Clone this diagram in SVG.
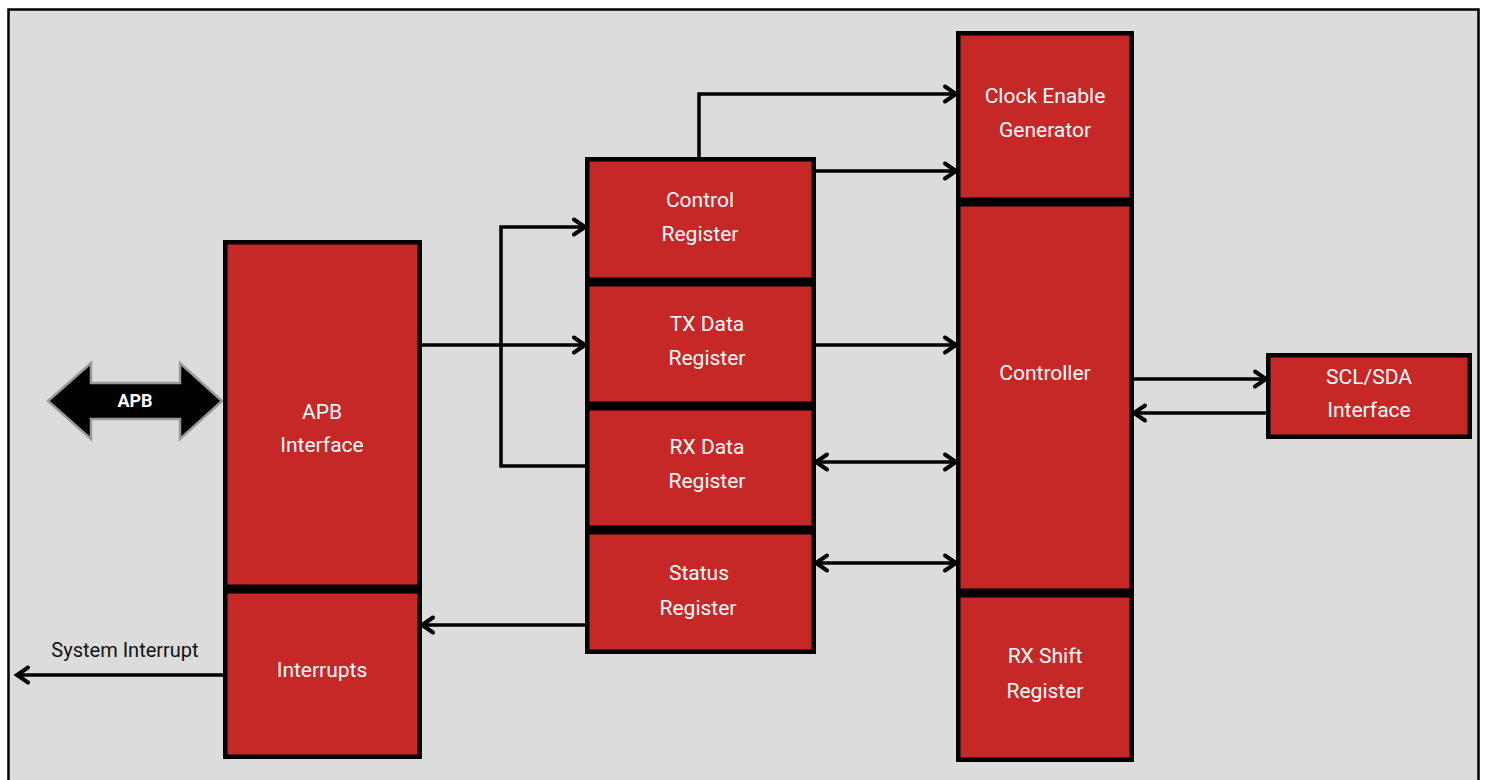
<svg xmlns="http://www.w3.org/2000/svg" width="1487" height="780" viewBox="0 0 1487 780">
<defs>
<style>
.box{fill:#c62727;stroke:#000;stroke-width:4.5}
.lbl{font-family:Roboto,"Liberation Sans",sans-serif;font-size:21px;fill:#fff;text-anchor:middle}
.conn{fill:none;stroke:#000;stroke-width:3.5}
</style>
<marker id="ah" markerUnits="userSpaceOnUse" markerWidth="18" markerHeight="22" refX="14" refY="10" orient="auto-start-reverse" overflow="visible">
<path d="M3,2.5 L14,10 L3,17.5" fill="none" stroke="#000" stroke-width="4" stroke-linecap="round" stroke-linejoin="miter"/>
</marker>
</defs>
<rect x="0" y="0" width="1487" height="780" fill="#fff"/>
<rect x="8.5" y="9.5" width="1470" height="800" fill="#dcdcdc" stroke="#000" stroke-width="2.5"/>

<g id="apb-bus">
<polygon points="48,401 91,363 91,383 180,383 180,363 222,401 180,439 180,419 91,419 91,439" fill="#000" stroke="#9a9a9a" stroke-width="2.5"/>
<text x="135" y="407" font-family="Roboto,'Liberation Sans',sans-serif" font-size="18" font-weight="bold" fill="#fff" text-anchor="middle">APB</text>
</g>

<g id="apb-interface">
<rect class="box" x="225.25" y="242.25" width="194.5" height="344.5"/>
<text class="lbl" x="322" y="419">APB</text>
<text class="lbl" x="322" y="452">Interface</text>
</g>
<g id="interrupts">
<rect class="box" x="225.25" y="591.25" width="194.5" height="165.5"/>
<text class="lbl" x="322" y="677">Interrupts</text>
</g>

<g id="control-register">
<rect class="box" x="587.25" y="159.25" width="226.5" height="120.5"/>
<text class="lbl" x="700" y="207">Control</text>
<text class="lbl" x="700" y="241">Register</text>
</g>
<g id="tx-data-register">
<rect class="box" x="587.25" y="284.25" width="226.5" height="119.5"/>
<text class="lbl" x="707" y="331">TX Data</text>
<text class="lbl" x="707" y="365">Register</text>
</g>
<g id="rx-data-register">
<rect class="box" x="587.25" y="408.25" width="226.5" height="119.5"/>
<text class="lbl" x="707" y="454">RX Data</text>
<text class="lbl" x="707" y="488">Register</text>
</g>
<g id="status-register">
<rect class="box" x="587.25" y="532.25" width="226.5" height="119.5"/>
<text class="lbl" x="699" y="580">Status</text>
<text class="lbl" x="698" y="615">Register</text>
</g>

<g id="clock-enable-generator">
<rect class="box" x="958.25" y="33.25" width="173.5" height="166.5"/>
<text class="lbl" x="1045" y="103">Clock Enable</text>
<text class="lbl" x="1045" y="137">Generator</text>
</g>
<g id="controller">
<rect class="box" x="958.25" y="204.25" width="173.5" height="386.5"/>
<text class="lbl" x="1045" y="380">Controller</text>
</g>
<g id="rx-shift-register">
<rect class="box" x="958.25" y="595.25" width="173.5" height="164.5"/>
<text class="lbl" x="1045" y="663">RX Shift</text>
<text class="lbl" x="1045" y="698">Register</text>
</g>

<g id="scl-sda-interface">
<rect class="box" x="1268.25" y="355.25" width="201.5" height="81.5"/>
<text class="lbl" x="1369" y="384">SCL/SDA</text>
<text class="lbl" x="1369" y="417">Interface</text>
</g>

<g id="connectors">
<path class="conn" d="M699,157 V94 H956" marker-end="url(#ah)"/>
<path class="conn" d="M816,171 H956" marker-end="url(#ah)"/>
<path class="conn" d="M422,345 H585" marker-end="url(#ah)"/>
<path class="conn" d="M585,466 H501 V227 H585" marker-end="url(#ah)"/>
<path class="conn" d="M816,345 H956" marker-end="url(#ah)"/>
<path class="conn" d="M816,462 H956" marker-start="url(#ah)" marker-end="url(#ah)"/>
<path class="conn" d="M816,563 H956" marker-start="url(#ah)" marker-end="url(#ah)"/>
<path class="conn" d="M585,625 H422" marker-end="url(#ah)"/>
<path class="conn" d="M223,675 H17" marker-end="url(#ah)"/>
<path class="conn" d="M1134,379 H1266" marker-end="url(#ah)"/>
<path class="conn" d="M1266,413 H1134" marker-end="url(#ah)"/>
<text x="125" y="657" font-family="Roboto,'Liberation Sans',sans-serif" font-size="20" fill="#111" text-anchor="middle">System Interrupt</text>
</g>
</svg>
